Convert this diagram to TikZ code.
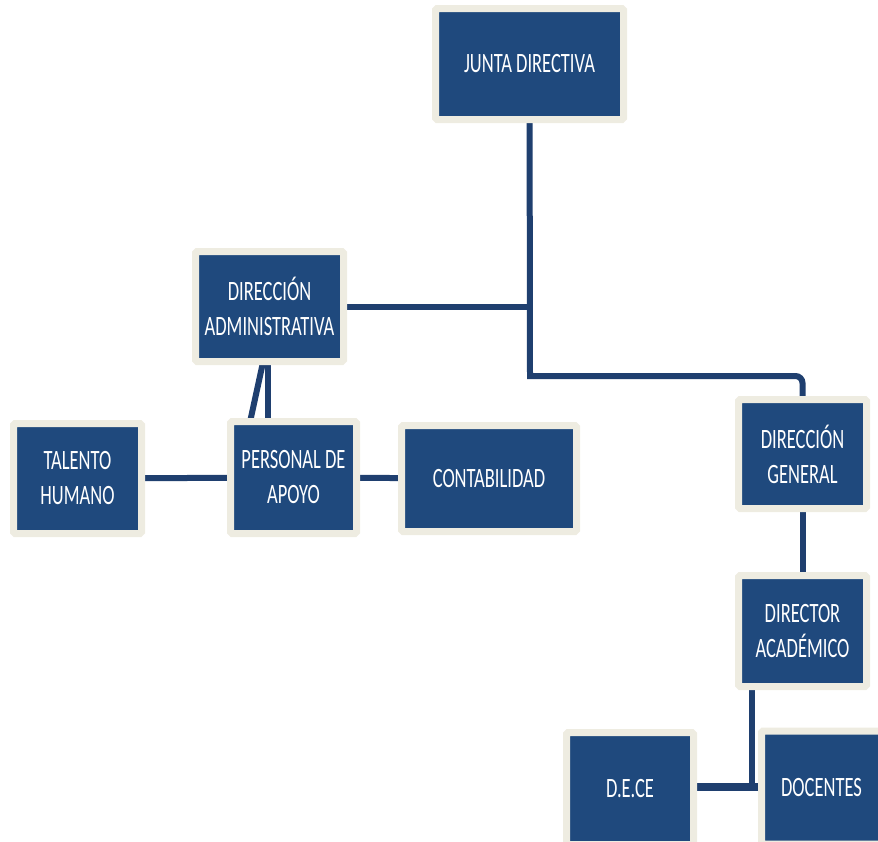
\documentclass[tikz,border=0pt]{standalone}
\usepackage{fontspec}
\newfontfamily\boxfont{Carlito}[FakeStretch=0.66]
\usetikzlibrary{backgrounds}
\definecolor{boxblue}{HTML}{1F497D}
\definecolor{cream}{HTML}{EEECE1}
\definecolor{linkblue}{HTML}{1F3F6F}
\begin{document}
\begin{tikzpicture}[x=1pt,y=-1pt,
  box/.style={draw=cream, line width=7pt, fill=boxblue, rounded corners=1.5pt,
    text=white, font=\boxfont\fontsize{28}{35}\selectfont, align=center,
    inner sep=0pt, outer sep=0pt},
  link/.style={draw=linkblue, line width=6pt, line join=miter}]
\useasboundingbox (0,0) rectangle (878,841);

\node[box, minimum width=188pt, minimum height=111pt] (junta) at (529.5,64) {JUNTA DIRECTIVA};
\node[box, minimum width=148pt, minimum height=110pt] (diradm) at (269.5,306.5) {DIRECCIÓN\\ADMINISTRATIVA};
\node[box, minimum width=128pt, minimum height=110pt] (talento) at (77.5,478.5) {TALENTO\\HUMANO};
\node[box, minimum width=126pt, minimum height=112pt] (personal) at (293.5,477.5) {PERSONAL DE\\APOYO};
\node[box, minimum width=175pt, minimum height=106pt] (contab) at (489,478.5) {CONTABILIDAD};
\node[box, minimum width=128pt, minimum height=109pt] (dirgen) at (802.5,454) {DIRECCIÓN\\GENERAL};
\node[box, minimum width=128pt, minimum height=111pt] (diracad) at (802.5,631) {DIRECTOR\\ACADÉMICO};
\node[box, minimum width=127pt, minimum height=112pt] (dece) at (630,788.5) {D.E.CE};
\node[box, minimum width=120pt, minimum height=113pt] (docentes) at (821.5,787.5) {DOCENTES};

\coordinate (elbow) at (530,376);
\coordinate (pvx) at (268,0);
\coordinate (d1) at (263.5,360);
\coordinate (d2) at (250,422);
\coordinate (j2) at (752,787);

\begin{scope}[on background layer]
  \draw[link] (junta.center) -- (elbow) [rounded corners=7pt] -| (dirgen.center);
  \draw[link] (diradm.center) -- (diradm.center -| elbow);
  \draw[link] (dirgen.center) -- (diracad.center);
  \draw[link] (diracad.center -| j2) -- (j2);
  \draw[link, line width=8pt] (dece.center |- j2) -- (docentes.center |- j2);
  \draw[link] (personal.center -| pvx) -- (diradm.center -| pvx);
  \draw[link] (d1) -- (d2);
  \draw[link] (talento.center) -- (personal.center);
  \draw[link] (personal.center) -- (contab.center);
\end{scope}
\end{tikzpicture}
\end{document}
